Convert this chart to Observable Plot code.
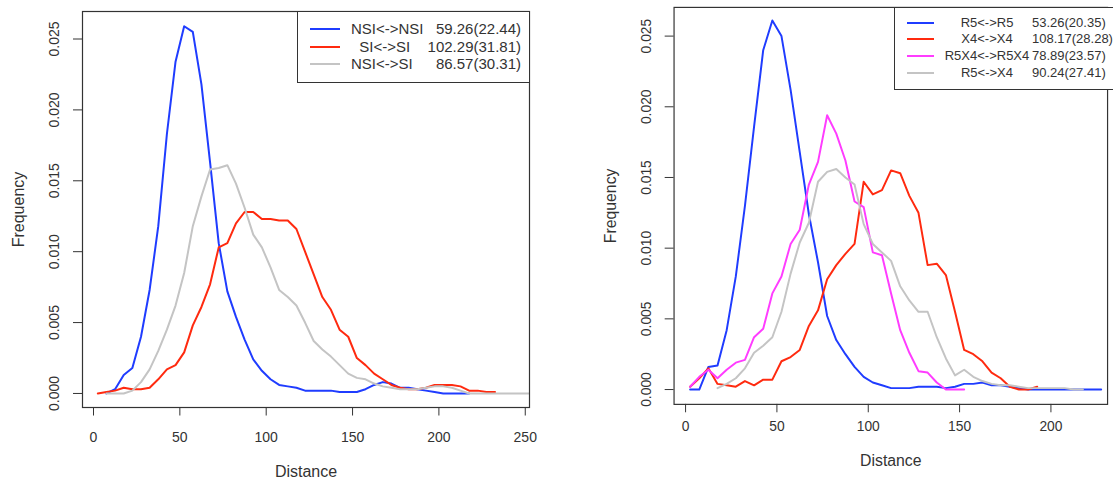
<!DOCTYPE html>
<html>
<head>
<meta charset="utf-8">
<script src="https://cdn.jsdelivr.net/npm/d3@7"></script>
<script src="https://cdn.jsdelivr.net/npm/@observablehq/plot@0.6"></script>
<style>
  html, body { margin: 0; padding: 0; background: #fff; overflow: hidden; width: 1113px; height: 480px; }
  #root { position: relative; width: 1113px; height: 480px; overflow: hidden; font-family: "Liberation Sans", Arial, sans-serif; color: #333; }
  .panel { position: absolute; top: 0; }
  .legend { position: absolute; border: 1px solid #333; background: #fff; box-sizing: border-box; }
  .row { position: absolute; left: 0; right: 0; height: 18px; line-height: 18px; white-space: pre; }
  .sw { position: absolute; top: 8px; height: 2px; }
  .nm, .vl { position: absolute; top: 0; }
</style>
</head>
<body>
<div id="root"></div>
<script>
// ---------- data: left panel ----------
const xLeft = [2.5, 7.5, 12.5, 17.5, 22.5, 27.5, 32.5, 37.5, 42.5, 47.5, 52.5, 57.5, 62.5, 67.5, 72.5, 77.5, 82.5, 87.5, 92.5, 97.5, 102.5, 107.5, 112.5, 117.5, 122.5, 127.5, 132.5, 137.5, 142.5, 147.5, 152.5, 157.5, 162.5, 167.5, 172.5, 177.5, 182.5, 187.5, 192.5, 197.5, 202.5, 207.5, 212.5, 217.5, 222.5, 227.5, 232.5, 237.5, 242.5, 247.5, 252.5];
const nsiNsi = [null, 0, .0003, .0013, .0018, .0040, .0073, .0118, .0183, .0234,
  .0259, .0255, .0218, .0163, .0106, .0072, .0054, .0038, .0024, .0016,
  .0010, .0006, .0005, .0004, .0002, .0002, .0002, .0002, .0001, .0001,
  .0001, .0003, .0006, .0008, .0007, .0004, .0004, .0003, .0002, .0001,
  0, 0, 0, 0, null, null, null, null, null, null, null];
const siSi = [0, .0001, .0002, .0004, .0003, .0003, .0004, .0010, .0017, .0020,
  .0029, .0048, .0061, .0077, .0103, .0106, .0120, .0128, .0128, .0123,
  .0123, .0122, .0122, .0116, .0100, .0084, .0068, .0059, .0045, .0040,
  .0025, .0020, .0014, .0010, .0006, .0004, .0003, .0003, .0004, .0006,
  .0006, .0006, .0005, .0002, .0002, .0001, .0001, null, null, null, null];
const nsiSi = [null, 0, 0, 0, .0002, .0008, .0017, .0030, .0045, .0062,
  .0085, .0118, .0139, .0158, .0159, .0161, .0148, .0131, .0112, .0103,
  .0089, .0073, .0068, .0062, .0050, .0037, .0031, .0026, .0020, .0014,
  .0011, .0010, .0007, .0005, .0004, .0003, .0003, .0003, .0004, .0005,
  .0005, .0004, .0002, 0, 0, 0, 0, 0, 0, 0, 0];
const leftSeries = ["NSI<->NSI", "SI<->SI", "NSI<->SI"];
const leftColors = ["#1f3cff", "#ff2a0f", "#c4c4c4"];
const leftLegendNames = ["NSI<->NSI", "  SI<->SI", "NSI<->SI"];
const leftLegendValues = ["59.26(22.44)", "102.29(31.81)", "86.57(30.31)"];
const xTicksLeft = [0, 50, 100, 150, 200, 250];

// ---------- data: right panel ----------
const xRight = [2.5, 7.5, 12.5, 17.5, 22.5, 27.5, 32.5, 37.5, 42.5, 47.5, 52.5, 57.5, 62.5, 67.5, 72.5, 77.5, 82.5, 87.5, 92.5, 97.5, 102.5, 107.5, 112.5, 117.5, 122.5, 127.5, 132.5, 137.5, 142.5, 147.5, 152.5, 157.5, 162.5, 167.5, 172.5, 177.5, 182.5, 187.5, 192.5, 197.5, 202.5, 207.5, 212.5, 217.5, 222.5, 227.5];
const r5r5 = [0, 0, .0016, .0017, .0042, .0080, .0130, .0186, .0240, .0261,
  .0250, .0212, .0168, .0124, .0090, .0052, .0035, .0025, .0016, .0009,
  .0005, .0003, .0001, .0001, .0001, .0002, .0002, .0002, .0001, .0002,
  .0004, .0004, .0005, .0003, .0003, .0002, .0001, 0, 0, 0,
  0, 0, 0, 0, 0, 0];
const x4x4 = [.0002, .0008, .0015, .0004, .0003, .0002, .0006, .0003, .0007, .0007,
  .0020, .0023, .0028, .0045, .0056, .0078, .0088, .0096, .0103, .0147,
  .0138, .0141, .0155, .0153, .0137, .0125, .0088, .0089, .0081, .0055,
  .0028, .0025, .0020, .0012, .0008, .0002, 0, 0, .0002, null,
  null, null, null, null, null, null];
const r5x4r5x4 = [.0002, .0009, .0014, .0008, .0014, .0019, .0021, .0037, .0043, .0068,
  .0080, .0103, .0113, .0145, .0161, .0194, .0181, .0162, .0133, .0129,
  .0097, .0095, .0068, .0042, .0026, .0013, .0012, .0005, 0, 0,
  0, null, null, null, null, null, null, null, null, null,
  null, null, null, null, null, null];
const r5x4 = [null, null, null, .0001, .0004, .0008, .0015, .0026, .0031, .0037,
  .0055, .0082, .0104, .0118, .0147, .0154, .0156, .0150, .0145, .0117,
  .0103, .0097, .0091, .0073, .0063, .0055, .0055, .0037, .0022, .0010,
  .0014, .0009, .0006, .0004, .0003, .0003, .0002, .0001, .0001, .0001,
  .0001, .0001, 0, 0, null, null];
const rightSeries = ["R5<->R5", "X4<->X4", "R5X4<->R5X4", "R5<->X4"];
const rightColors = ["#1f3cff", "#ff2a0f", "#ff3cff", "#c4c4c4"];
const rightLegendNames = ["R5<->R5", "X4<->X4", "R5X4<->R5X4", "R5<->X4"];
const rightLegendValues = ["53.26(20.35)", "108.17(28.28)", "78.89(23.57)", "90.24(27.41)"];
const xTicksRight = [0, 50, 100, 150, 200];

const yTicks = [0, 0.005, 0.010, 0.015, 0.020, 0.025];
const xTitle = "Distance";
const yTitle = "Frequency";

// ---------- build ----------
function toRows(xs, names, arrays) {
  const out = [];
  names.forEach((n, k) => arrays[k].forEach((v, i) => { if (v != null) out.push({series: n, x: xs[i], y: v}); }));
  return out;
}
const fmtY = d3.format(".3f");
const root = document.getElementById("root");

function panel(cfg) {
  const rows = toRows(cfg.xs, cfg.names, cfg.arrays);
  const svg = Plot.plot({
    width: cfg.width, height: 480,
    marginLeft: cfg.ml, marginRight: cfg.mr, marginTop: cfg.mt, marginBottom: cfg.mb,
    style: {fontFamily: "Liberation Sans, Arial, sans-serif", color: "#333", background: "transparent", overflow: "visible"},
    x: {domain: cfg.xDomain},
    y: {domain: cfg.yDomain},
    color: {domain: cfg.names, range: cfg.colors},
    marks: [
      Plot.line(rows, {x: "x", y: "y", z: "series", stroke: "series", strokeWidth: 2, clip: true}),
      Plot.frame({stroke: "#333", strokeWidth: 1.2}),
      Plot.axisX({ticks: cfg.xTicks, tickSize: 8.5, tickPadding: cfg.tickPadX, fontSize: 14, label: null, tickFormat: d => String(d), stroke: "#333"}),
      Plot.axisY({ticks: yTicks, tickSize: 9, tickFormat: () => "", label: null, stroke: "#333"}),
      Plot.text(yTicks, {y: d => d, text: d => fmtY(d), frameAnchor: "left", rotate: -90, dx: -28, fontSize: 14, textAnchor: "middle", lineAnchor: "middle", fill: "#333"}),
      Plot.text([xTitle], {text: d => d, frameAnchor: "bottom", dy: cfg.xTitleDy, fontSize: 16, lineAnchor: "middle", fill: "#333"}),
      Plot.text([yTitle], {text: d => d, frameAnchor: "left", rotate: -90, dx: -63.5, fontSize: 16, lineAnchor: "middle", textAnchor: "middle", fill: "#333"})
    ]
  });
  const wrap = document.createElement("div");
  wrap.className = "panel";
  wrap.style.left = cfg.left + "px";
  wrap.appendChild(svg);
  root.appendChild(wrap);
}

function legend(cfg) {
  const box = document.createElement("div");
  box.className = "legend";
  Object.assign(box.style, {left: cfg.left + "px", top: cfg.top + "px", width: cfg.width + "px", height: cfg.height + "px", fontSize: cfg.fontSize + "px"});
  cfg.names.forEach((n, i) => {
    const row = document.createElement("div");
    row.className = "row";
    row.style.top = (cfg.first + i * cfg.step - 9 - 1) + "px";
    const sw = document.createElement("div");
    sw.className = "sw";
    Object.assign(sw.style, {left: cfg.swLeft + "px", width: cfg.swWidth + "px", background: cfg.colors[i]});
    const nm = document.createElement("span");
    nm.className = "nm";
    nm.textContent = n;
    if (cfg.nameCenter != null) { nm.style.left = cfg.nameCenter + "px"; nm.style.transform = "translateX(-50%)"; }
    else nm.style.left = cfg.nameLeft + "px";
    const vl = document.createElement("span");
    vl.className = "vl";
    vl.textContent = cfg.values[i];
    if (cfg.valueRight != null) vl.style.right = cfg.valueRight + "px";
    else vl.style.left = cfg.valueLeft + "px";
    row.append(sw, nm, vl);
    box.appendChild(row);
  });
  root.appendChild(box);
}

panel({
  left: 0, width: 560, ml: 82, mr: 31, mt: 11, mb: 73,
  xDomain: [-6.37, 252.46], yDomain: [-0.00099, 0.02694],
  xs: xLeft, names: leftSeries, arrays: [nsiNsi, siSi, nsiSi], colors: leftColors,
  xTicks: xTicksLeft, tickPadX: 16, xTitleDy: 64.5
});
panel({
  left: 560, width: 560, ml: 115, mr: 6, mt: 7, mb: 71,
  xDomain: [-6.3, 231], yDomain: [-0.00105, 0.02703],
  xs: xRight, names: rightSeries, arrays: [r5r5, x4x4, r5x4r5x4, r5x4], colors: rightColors,
  xTicks: xTicksRight, tickPadX: 9, xTitleDy: 57.5
});
legend({
  left: 297, top: 11, width: 233, height: 72, fontSize: 15,
  names: leftLegendNames, values: leftLegendValues, colors: leftColors,
  first: 18.3, step: 17.5, swLeft: 12, swWidth: 30, nameLeft: 53, valueRight: 8
});
legend({
  left: 894, top: 7, width: 222, height: 83, fontSize: 13,
  names: rightLegendNames, values: rightLegendValues, colors: rightColors,
  first: 15.7, step: 16.7, swLeft: 12, swWidth: 27, nameCenter: 92, valueLeft: 137
});
</script>
</body>
</html>
